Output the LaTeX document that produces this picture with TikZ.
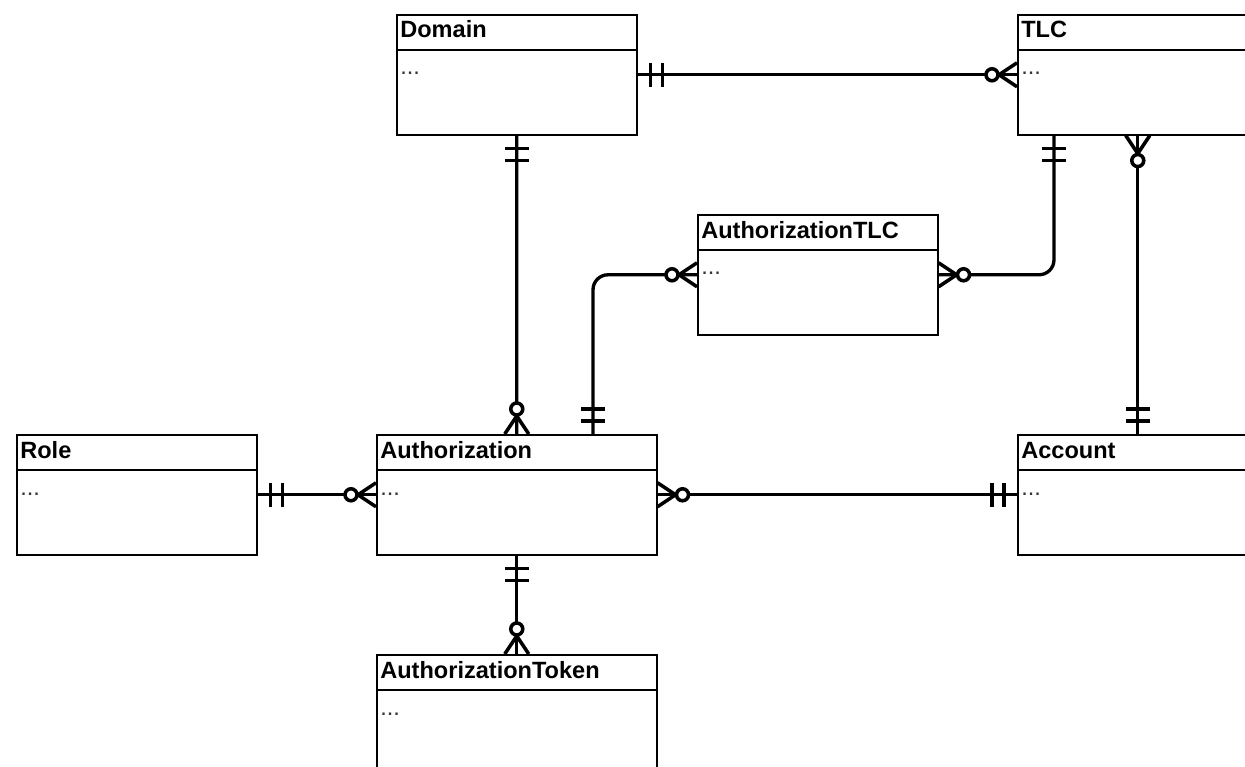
\documentclass[tikz,border=0pt]{standalone}
\usepackage{fontspec}
\setmainfont{Liberation Sans}
\usetikzlibrary{positioning,calc}
\tikzset{
  entity/.style = { draw, rectangle, anchor = north west, inner sep = 0pt,
                    minimum width = 4.8cm, minimum height = 2.4cm, line width = 0.9pt },
  wide/.style   = { minimum width = 5.6cm },
  title/.style  = { anchor = base west, inner sep = 0pt,
                    font = \fontsize{13.4}{16}\selectfont\bfseries },
  attr/.style   = { anchor = base west, inner sep = 0pt, text = black!80,
                    font = \fontsize{13.4}{16}\selectfont },
  rel/.style    = { line width = 1.9pt, rounded corners = 0.3cm },
  pics/one/.style = { code = {
      \draw [line width = 2pt] (13,-12) -- (13,12) (25,-12) -- (25,12);
  }},
  pics/many/.style = { code = {
      \draw [line width = 2pt] (0,-12) -- (18,0) -- (0,12);
      \draw [line width = 2pt, fill = white] (25,0) circle [radius = 0.12cm];
  }}
}

\begin{document}
\begin{tikzpicture}[x = 0.02cm, y = -0.02cm]
    \clip (0,0) rectangle (1245,767);

    % entities
    \node (domain)  [entity] at (396,14) {};
    \node (tlc)     [entity] at (1017,14) {};
    \node (authtlc) [entity] at (697,214) {};
    \node (role)    [entity] at (16,434) {};
    \node (auth)    [entity, wide] at (376,434) {};
    \node (account) [entity] at (1017,434) {};
    \node (token)   [entity, wide] at (376,654) {};

    \node (domain-t)  [title] at ($(domain.north west)+(4,24)$) {Domain};
    \node (tlc-t)     [title] at ($(tlc.north west)+(4,24)$) {TLC};
    \node (authtlc-t) [title] at ($(authtlc.north west)+(4,24)$) {AuthorizationTLC};
    \node (role-t)    [title] at ($(role.north west)+(4,24)$) {Role};
    \node (auth-t)    [title] at ($(auth.north west)+(4,24)$) {Authorization};
    \node (account-t) [title] at ($(account.north west)+(4,24)$) {Account};
    \node (token-t)   [title] at ($(token.north west)+(4,24)$) {AuthorizationToken};

    \node (domain-d)  [attr] at ($(domain.north west)+(4,61)$) {...};
    \node (tlc-d)     [attr] at ($(tlc.north west)+(4,61)$) {...};
    \node (authtlc-d) [attr] at ($(authtlc.north west)+(4,61)$) {...};
    \node (role-d)    [attr] at ($(role.north west)+(4,61)$) {...};
    \node (auth-d)    [attr] at ($(auth.north west)+(4,61)$) {...};
    \node (account-d) [attr] at ($(account.north west)+(4,61)$) {...};
    \node (token-d)   [attr] at ($(token.north west)+(4,61)$) {...};

    \draw [line width = 0.9pt] ($(domain.north west)+(0,36)$) -- ($(domain.north east)+(0,36)$);
    \draw [line width = 0.9pt] ($(tlc.north west)+(0,36)$) -- ($(tlc.north east)+(0,36)$);
    \draw [line width = 0.9pt] ($(authtlc.north west)+(0,36)$) -- ($(authtlc.north east)+(0,36)$);
    \draw [line width = 0.9pt] ($(role.north west)+(0,36)$) -- ($(role.north east)+(0,36)$);
    \draw [line width = 0.9pt] ($(auth.north west)+(0,36)$) -- ($(auth.north east)+(0,36)$);
    \draw [line width = 0.9pt] ($(account.north west)+(0,36)$) -- ($(account.north east)+(0,36)$);
    \draw [line width = 0.9pt] ($(token.north west)+(0,36)$) -- ($(token.north east)+(0,36)$);

    % relations
    \coordinate (tlc-a)  at ($(tlc.south west)+(37,0)$);
    \coordinate (auth-a) at ($(auth.north west)+(217,0)$);
    \draw [rel] (domain.east) -- (tlc.west);
    \draw [rel] (domain.south) -- (auth.north);
    \draw [rel] (tlc-a) |- (authtlc.east);
    \draw [rel] (auth-a) |- (authtlc.west);
    \draw [rel] (tlc.south) -- (account.north);
    \draw [rel] (role.east) -- (auth.west);
    \draw [rel] (auth.east) -- (account.west);
    \draw [rel] (auth.south) -- (token.north);

    % cardinalities
    \pic at (domain.east) {one};
    \pic [rotate = 180] at (tlc.west) {many};
    \pic [rotate = -90] at (domain.south) {one};
    \pic [rotate = 90] at (auth.north) {many};
    \pic [rotate = -90] at (tlc-a) {one};
    \pic at (authtlc.east) {many};
    \pic [rotate = 90] at (auth-a) {one};
    \pic [rotate = 180] at (authtlc.west) {many};
    \pic [rotate = -90] at (tlc.south) {many};
    \pic [rotate = 90] at (account.north) {one};
    \pic at (role.east) {one};
    \pic [rotate = 180] at (auth.west) {many};
    \pic at (auth.east) {many};
    \pic [rotate = 180] at (account.west) {one};
    \pic [rotate = -90] at (auth.south) {one};
    \pic [rotate = 90] at (token.north) {many};
  \end{tikzpicture}
\end{document}
